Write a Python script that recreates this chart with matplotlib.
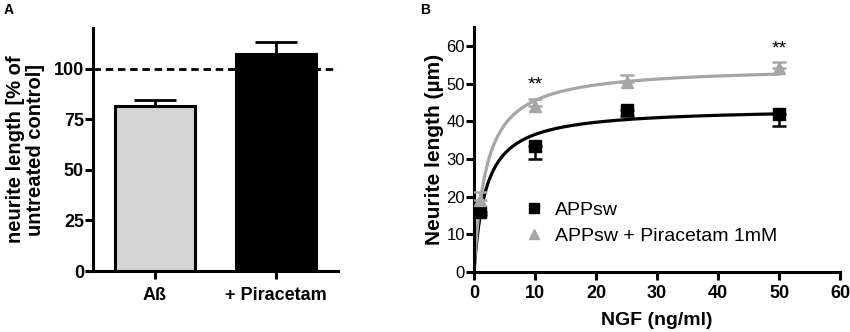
import matplotlib
matplotlib.use("Agg")
import matplotlib.pyplot as plt
from matplotlib.lines import Line2D
import numpy as np

plt.rcParams['font.family'] = ['Liberation Sans', 'DejaVu Sans']

# ---- Panel A data ----
a_categories = ["Aß", "+ Piracetam"]
a_values = [81.7, 107.0]
a_err = [2.8, 6.0]
a_colors = ["#d4d4d4", "#000000"]
a_yticks = [0, 25, 50, 75, 100]

# ---- Panel B data ----
ngf = [1, 10, 25, 50]
appsw = [16.0, 33.3, 43.0, 42.0]
appsw_err = [1.0, 3.3, 1.5, 3.3]
pira = [19.0, 44.0, 50.5, 54.0]
pira_err = [2.2, 2.0, 1.7, 1.6]
# one-site hyperbolic fit parameters (Bmax, Kd)
appsw_fit = (43.6, 1.95)
pira_fit = (54.6, 2.0)
b_xticks = [0, 10, 20, 30, 40, 50, 60]
b_yticks = [0, 10, 20, 30, 40, 50, 60]
gray = "#a6a6a6"

fig = plt.figure(figsize=(8.5, 3.32), dpi=100)

SP = 2.2
# ---------------- Panel A ----------------
axA = fig.add_axes([93/850, 1-271/332, (338-93)/850, (271-28)/332])
x = np.arange(len(a_categories))
axA.axhline(100, color="black", lw=2.0, ls=(0, (2.7, 1.7)), zorder=1)
axA.bar(x, a_values, width=0.66, color=a_colors, edgecolor="black", linewidth=2.2, zorder=2)
axA.errorbar(x, a_values, yerr=[[0, 0], a_err], fmt="none", ecolor="black",
             elinewidth=2.0, capsize=15, capthick=2.0, zorder=3)
axA.set_xlim(-0.512, 1.512)
axA.set_ylim(0, 120)
axA.set_yticks(a_yticks)
axA.set_xticks(x)
axA.set_xticklabels(a_categories, fontweight="bold", fontsize=13)
for lab in axA.get_yticklabels():
    lab.set_fontweight("bold")
axA.tick_params(axis="both", direction="out", length=5.5, width=SP, labelsize=13, pad=1)
axA.tick_params(axis="x", pad=6)
for s in ["top", "right"]:
    axA.spines[s].set_visible(False)
for s in ["left", "bottom"]:
    axA.spines[s].set_linewidth(SP)
axA.set_ylabel("neurite length [% of\nuntreated control]", fontweight="bold", fontsize=14.5,
               linespacing=1.1, labelpad=6)
fig.text(4/850, 1-10/332, "A", fontweight="bold", fontsize=10, va="center", ha="left")

# ---------------- Panel B ----------------
axB = fig.add_axes([474/850, 1-272/332, (840-474)/850, (272-27)/332])
xf = np.linspace(0, 50, 400)
for (bmax, kd), col in [(appsw_fit, "black"), (pira_fit, gray)]:
    axB.plot(xf, bmax*xf/(kd+xf), color=col, lw=2.3, zorder=2)
axB.errorbar(ngf, appsw, yerr=[appsw_err, [0]*4], fmt="s", color="black", ms=8,
             elinewidth=1.8, capsize=5, capthick=1.8, zorder=3)
axB.errorbar(ngf, pira, yerr=[[0]*4, pira_err], fmt="^", color=gray, ms=8,
             elinewidth=1.8, capsize=5, capthick=1.8, zorder=3)
axB.text(10, 47.3, "**", ha="center", va="bottom", fontsize=14)
axB.text(50, 57.0, "**", ha="center", va="bottom", fontsize=14)
axB.set_xlim(0, 60)
axB.set_ylim(0, 65)
axB.set_xticks(b_xticks)
axB.set_yticks(b_yticks)
for lab in axB.get_xticklabels():
    lab.set_fontweight("bold")
    lab.set_fontsize(13)
axB.tick_params(axis="both", direction="out", length=5.5, width=SP, pad=1)
axB.tick_params(axis="y", labelsize=12)
axB.tick_params(axis="x", pad=4)
for s in ["top", "right"]:
    axB.spines[s].set_visible(False)
for s in ["left", "bottom"]:
    axB.spines[s].set_linewidth(SP)
axB.set_xlabel("NGF (ng/ml)", fontweight="bold", fontsize=14, labelpad=7)
axB.set_ylabel("Neurite length (µm)", fontweight="bold", fontsize=15, labelpad=2)
handles = [Line2D([], [], marker="s", color="black", ls="none", ms=7.5),
           Line2D([], [], marker="^", color=gray, ls="none", ms=7.5)]
axB.legend(handles, ["APPsw", "APPsw + Piracetam 1mM"], loc="upper left",
           bbox_to_anchor=((524-474)/366, (272-201)/245), frameon=False,
           fontsize=14, borderpad=0, handletextpad=0.6, labelspacing=0.45,
           handlelength=1.0, borderaxespad=0)
fig.text(420/850, 1-10/332, "B", fontweight="bold", fontsize=10, va="center", ha="left")

fig.savefig("out.png", dpi=100)
